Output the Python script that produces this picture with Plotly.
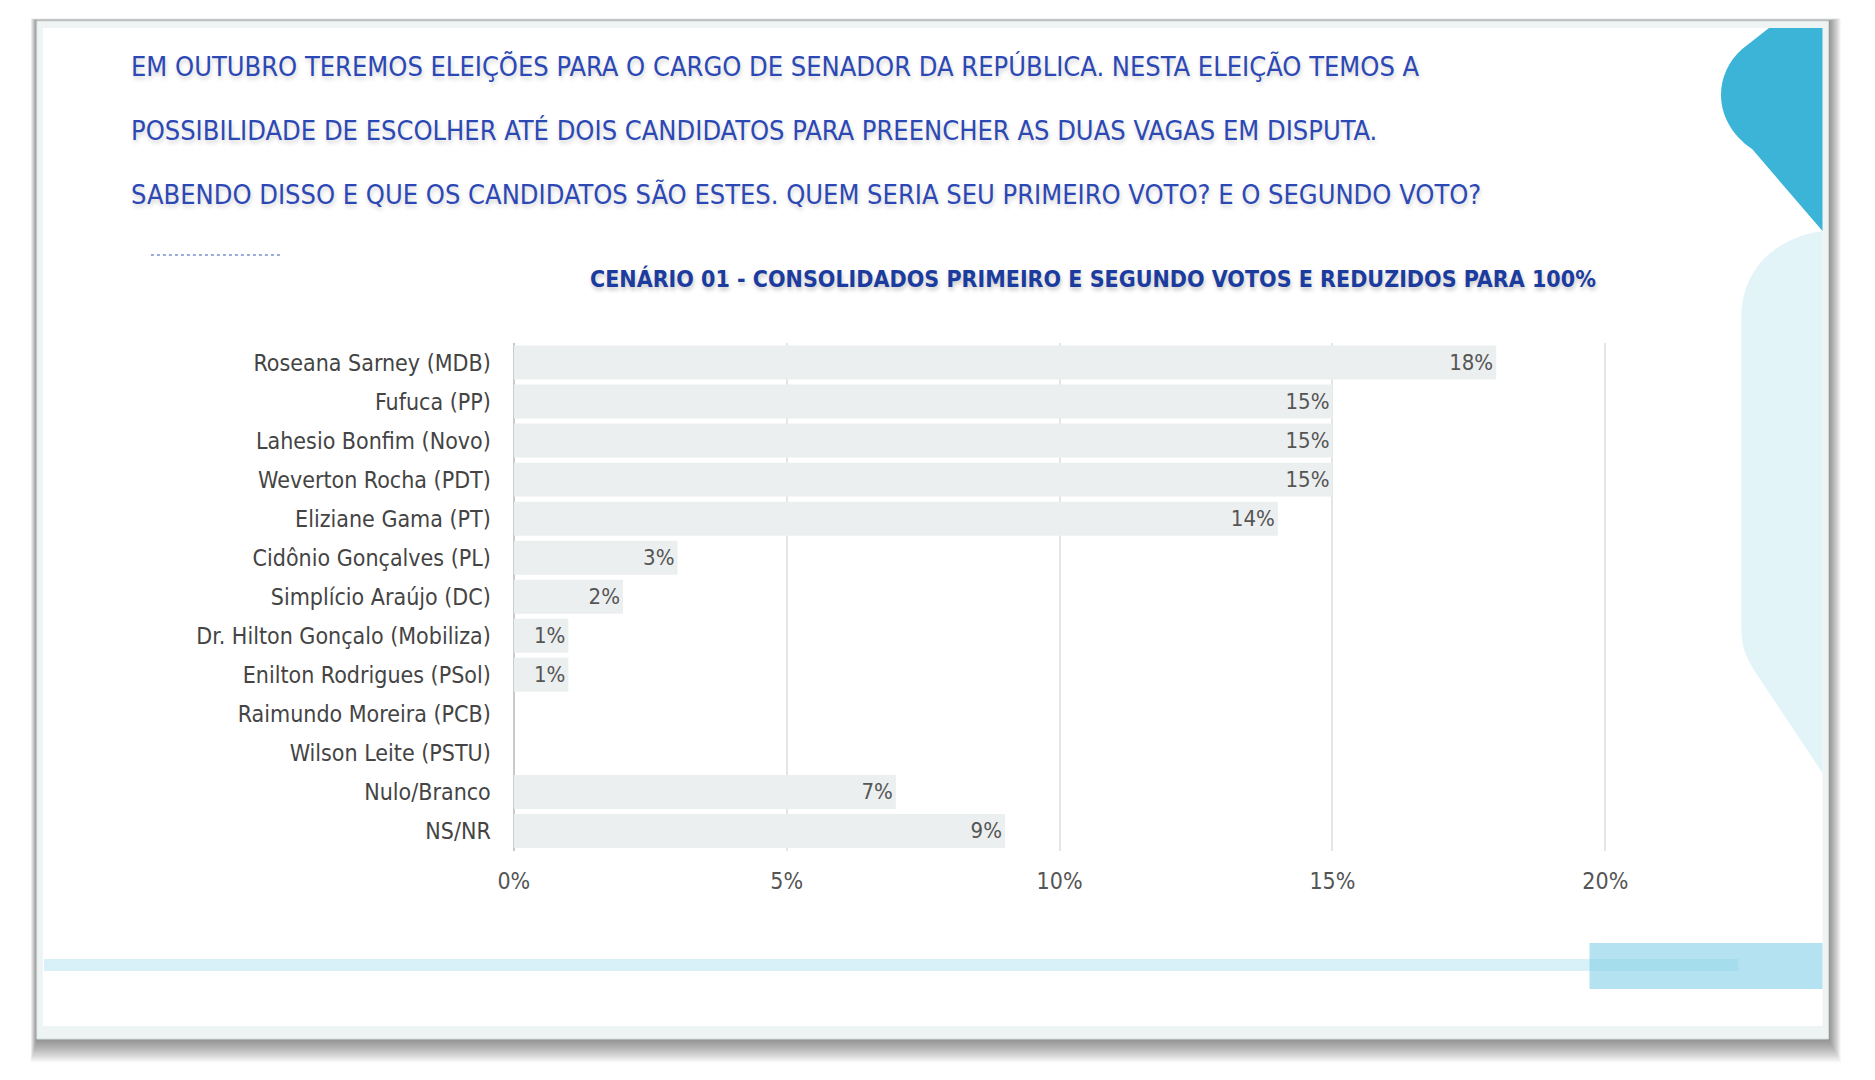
import plotly.graph_objects as go

# dados do cenário 01 (primeiro + segundo voto, reduzidos para 100%)
candidatos = [
    "Roseana Sarney (MDB)",
    "Fufuca (PP)",
    "Lahesio Bonfim (Novo)",
    "Weverton Rocha (PDT)",
    "Eliziane Gama (PT)",
    "Cidônio Gonçalves (PL)",
    "Simplício Araújo (DC)",
    "Dr. Hilton Gonçalo (Mobiliza)",
    "Enilton Rodrigues (PSol)",
    "Raimundo Moreira (PCB)",
    "Wilson Leite (PSTU)",
    "Nulo/Branco",
    "NS/NR",
]
percentuais = [18, 15, 15, 15, 14, 3, 2, 1, 1, 0, 0, 7, 9]
rotulos = [f"{v}%" if v > 0 else "" for v in percentuais]

x_ticks = [0, 5, 10, 15, 20]
x_tick_labels = ["0%", "5%", "10%", "15%", "20%"]

pergunta = [
    "EM OUTUBRO TEREMOS ELEIÇÕES PARA O CARGO DE SENADOR DA REPÚBLICA. NESTA ELEIÇÃO TEMOS A",
    "POSSIBILIDADE DE ESCOLHER ATÉ DOIS CANDIDATOS PARA PREENCHER AS DUAS VAGAS EM DISPUTA.",
    "SABENDO DISSO E QUE OS CANDIDATOS SÃO ESTES. QUEM SERIA SEU PRIMEIRO VOTO? E O SEGUNDO VOTO?",
]
subtitulo = "CENÁRIO 01 - CONSOLIDADOS PRIMEIRO E SEGUNDO VOTOS E REDUZIDOS PARA 100%"

W, H = 1875, 1080
DX, DY = -23, -11  # ajuste fino do enquadramento
FONT = "Liberation Sans Narrow, DejaVu Sans Condensed, Roboto, sans-serif"


def px(x, y):
    return (x + DX) / W, 1 - (y + DY) / H


def path(points):
    out = []
    for cmd, *pts in points:
        seg = " ".join("%.5f,%.5f" % px(pts[i], pts[i + 1]) for i in range(0, len(pts), 2))
        out.append(cmd + " " + seg)
    return " ".join(out) + " Z"


def rect(x0, y0, x1, y1, color, line=None, layer="below"):
    a, b = px(x0, y0)
    c, d = px(x1, y1)
    return dict(type="rect", xref="paper", yref="paper", x0=a, y0=d, x1=c, y1=b,
                fillcolor=color, line=line or dict(width=0), layer=layer)


fig = go.Figure(go.Bar(
    x=percentuais,
    y=candidatos,
    orientation="h",
    marker=dict(color="#ECEFEF", line=dict(width=0)),
    text=rotulos,
    textposition="inside",
    insidetextanchor="end",
    textfont=dict(family=FONT, size=22, color="#555555"),
    constraintext="none",
    hoverinfo="skip",
))

# limites do slide
SX0, SY0, SX1, SY1 = 36, 24, 1843, 1042

shapes = []
# sombra do slide (camadas sobrepostas, esmaecendo)
for i in range(18, 0, -1):
    shapes.append(rect(SX0 - 0.35 * i, SY0 - 0.15 * i, SX1 + 0.7 * i, SY1 + 1.3 * i,
                       "rgba(0,0,0,0.026)"))
# slide com moldura clara
shapes.append(rect(SX0, SY0, SX1, SY1, "#EEF4F4", line=dict(color="#D5DCDC", width=1)))
shapes.append(rect(SX0 + 6, SY0 + 7, SX1 - 6, SY1 - 13, "#FFFFFF"))

# formas decorativas à direita
R = SX1 - 6
shapes.append(dict(type="path", xref="paper", yref="paper", layer="below",
                   fillcolor="#3CB4D7", line=dict(width=0),
                   path=path([("M", 1783, 31), ("L", R, 31), ("L", R, 234),
                              ("L", 1766, 152), ("C", 1726, 125, 1726, 78, 1756, 52)])))
shapes.append(dict(type="path", xref="paper", yref="paper", layer="below",
                   fillcolor="#E2F4F8", line=dict(width=0),
                   path=path([("M", R, 234), ("L", R, 776), ("L", 1782, 694),
                              ("C", 1762, 664, 1755, 656, 1755, 628), ("L", 1755, 322),
                              ("C", 1755, 268, 1794, 240, R, 234)])))

# faixas inferiores
shapes.append(rect(43, 962, 1752, 974, "rgba(190,230,242,0.6)"))
shapes.append(rect(1602, 946, R, 992, "rgba(140,210,232,0.65)"))

# linha pontilhada
a, b = px(151, 258)
c, _ = px(282, 258)
shapes.append(dict(type="line", xref="paper", yref="paper", x0=a, x1=c, y0=b, y1=b,
                   line=dict(color="#7A90D0", width=1.5, dash="dot"), layer="below"))

annotations = []
for i, linha in enumerate(pergunta):
    x, y = px(129, 70 + 63.5 * i)
    annotations.append(dict(
        text=linha, xref="paper", yref="paper", x=x, y=y, xanchor="left", yanchor="middle",
        showarrow=False,
        font=dict(family=FONT, size=27, color="#2C48B4",
                  shadow="1px 3px 4px rgba(0,0,0,0.18)"),
    ))
x, y = px(1101, 281)
annotations.append(dict(
    text="<b>" + subtitulo + "</b>", xref="paper", yref="paper", x=x, y=y,
    xanchor="center", yanchor="middle", showarrow=False,
    font=dict(family=FONT, size=23, color="#1B3C9E",
              shadow="1px 3px 4px rgba(0,0,0,0.22)"),
))

x0, _ = px(517, 0)
x1, _ = px(1673, 0)
_, y_top = px(0, 346)
_, y_bot = px(0, 853.5)

fig.update_layout(
    width=W,
    height=H,
    margin=dict(l=0, r=0, t=0, b=0),
    paper_bgcolor="#FFFFFF",
    plot_bgcolor="rgba(0,0,0,0)",
    showlegend=False,
    bargap=0.13,
    uniformtext=dict(minsize=22, mode="show"),
    shapes=shapes,
    annotations=annotations,
    xaxis=dict(
        domain=[x0, x1],
        range=[0, 21],
        tickvals=x_ticks,
        ticktext=x_tick_labels,
        showgrid=True,
        gridcolor="#E4E6E6",
        gridwidth=1.5,
        zeroline=True,
        zerolinecolor="#C9CBCB",
        zerolinewidth=1.5,
        showline=False,
        ticks="",
        ticklabelstandoff=14,
        tickfont=dict(family=FONT, size=23, color="#555555"),
        fixedrange=True,
    ),
    yaxis=dict(
        domain=[y_bot, y_top],
        autorange="reversed",
        showgrid=False,
        ticks="",
        ticklabelstandoff=22,
        tickfont=dict(family=FONT, size=23, color="#444444"),
        fixedrange=True,
    ),
)

fig.write_html("out.html")
